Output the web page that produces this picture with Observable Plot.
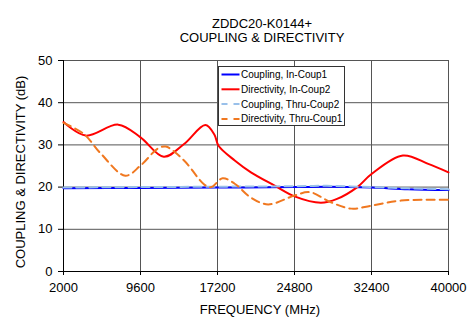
<!DOCTYPE html>
<html><head><meta charset="utf-8">
<script src="https://cdn.jsdelivr.net/npm/d3@7"></script>
<script src="https://cdn.jsdelivr.net/npm/@observablehq/plot@0.6"></script>
<style>
body{margin:0;background:#fff;}
#wrap{position:relative;width:467px;height:318px;overflow:hidden;font-family:"Liberation Sans",Arial,sans-serif;}
#wrap svg{position:absolute;left:0;top:0;}
</style></head>
<body><div id="wrap"></div>
<script>
const title1 = "ZDDC20-K0144+";
const title2 = "COUPLING & DIRECTIVITY";
const xLabel = "FREQUENCY (MHz)";
const yLabel = "COUPLING & DIRECTIVITY (dB)";
const xTicks = [2000, 9600, 17200, 24800, 32400, 40000];
const yTicks = [0, 10, 20, 30, 40, 50];
const seriesNames = ["Coupling, In-Coup1", "Directivity, In-Coup2", "Coupling, Thru-Coup2", "Directivity, Thru-Coup1"];

const freqCoupIn = [2000, 9600, 17200, 24800, 28000, 32400, 36000, 40000];
const coupIn     = [19.7, 19.8, 19.9, 20.0, 20.1, 19.9, 19.5, 19.3];
const freqCoupThru = [2000, 9600, 17200, 24800, 28000, 32400, 36000, 40000];
const coupThru     = [19.9, 20.0, 20.1, 20.2, 20.3, 20.0, 19.7, 19.5];
const freqDirIn = [2000, 4200, 7400, 9600, 11900, 13900, 16000, 16900, 17300, 18900, 20500, 22800, 24800, 27400, 29000, 31000, 32400, 35500, 38000, 40000];
const dirIn     = [35.4, 32.2, 34.8, 31.8, 27.2, 30.2, 34.7, 32.4, 29.8, 26.3, 23.5, 20.4, 17.8, 16.3, 17.2, 20.0, 23.1, 27.5, 25.5, 23.5];
const freqDirThru = [2000, 4000, 5700, 8100, 9600, 11300, 12100, 13900, 15900, 16600, 17700, 18900, 20500, 22200, 24800, 26300, 28400, 30400, 32400, 35300, 40000];
const dirThru     = [35.2, 32.6, 27.9, 22.7, 25.1, 29.1, 29.6, 26.3, 20.6, 20.0, 22.1, 20.8, 17.5, 15.9, 18.0, 18.8, 16.4, 14.9, 15.6, 16.8, 17.0];

const colors = ["#0000ff", "#ff0000", "#99c0ea", "#f07820"];
const dashes = [null, null, "8,5", "8,5"];

const mk = (fx, vy) => fx.map((f, i) => ({f, v: vy[i]}));
const sets = [mk(freqCoupIn, coupIn), mk(freqDirIn, dirIn), mk(freqCoupThru, coupThru), mk(freqDirThru, dirThru)];

const chart = Plot.plot({
  width: 467, height: 318,
  marginLeft: 63, marginRight: 19, marginTop: 60, marginBottom: 47,
  style: {fontFamily: "'Liberation Sans', Arial, sans-serif", fontSize: "13px", color: "#000", background: "transparent"},
  x: {domain: [2000, 40000], ticks: xTicks, tickFormat: d => String(d), label: null, tickSize: 4, tickPadding: 7},
  y: {domain: [0, 50], ticks: yTicks, label: null, tickSize: 5, tickPadding: 6},
  marks: [
    Plot.ruleY(yTicks.filter(d => d > 0), {stroke: "#555", strokeWidth: 1}),
    Plot.ruleX(xTicks.filter(d => d > 2000), {stroke: "#555", strokeWidth: 1}),
    Plot.ruleX([2000], {stroke: "#000"}),
    Plot.ruleY([0], {stroke: "#000"}),
    ...sets.map((d, i) => Plot.line(d, {x: "f", y: "v", stroke: colors[i], strokeWidth: 2, curve: "catmull-rom", strokeDasharray: dashes[i]}))
  ]
});
const wrap = document.getElementById("wrap");
wrap.appendChild(chart);

const ov = d3.select(wrap).append("svg").attr("width", 467).attr("height", 318)
  .style("font-family", "'Liberation Sans', Arial, sans-serif");
ov.append("text").attr("x", 262).attr("y", 28).attr("text-anchor", "middle").attr("font-size", 13).text(title1);
ov.append("text").attr("x", 262).attr("y", 42).attr("text-anchor", "middle").attr("font-size", 13).text(title2);
ov.append("text").attr("x", 260).attr("y", 314).attr("text-anchor", "middle").attr("font-size", 13).text(xLabel);
ov.append("text").attr("transform", "translate(25,172) rotate(-90)").attr("text-anchor", "middle").attr("font-size", 13).text(yLabel);

const lg = ov.append("g").attr("transform", "translate(218.5,66.5)");
lg.append("rect").attr("width", 126).attr("height", 59).attr("fill", "#fff").attr("stroke", "#333").attr("stroke-width", 1);
seriesNames.forEach((n, i) => {
  const y = 8 + i * 14.8;
  lg.append("line").attr("x1", 3).attr("x2", 21).attr("y1", y).attr("y2", y)
    .attr("stroke", colors[i]).attr("stroke-width", 2).attr("stroke-dasharray", dashes[i] ? "6,6" : null);
  lg.append("text").attr("x", 22.5).attr("y", y + 3.5).attr("font-size", 10).text(n);
});
</script></body></html>
